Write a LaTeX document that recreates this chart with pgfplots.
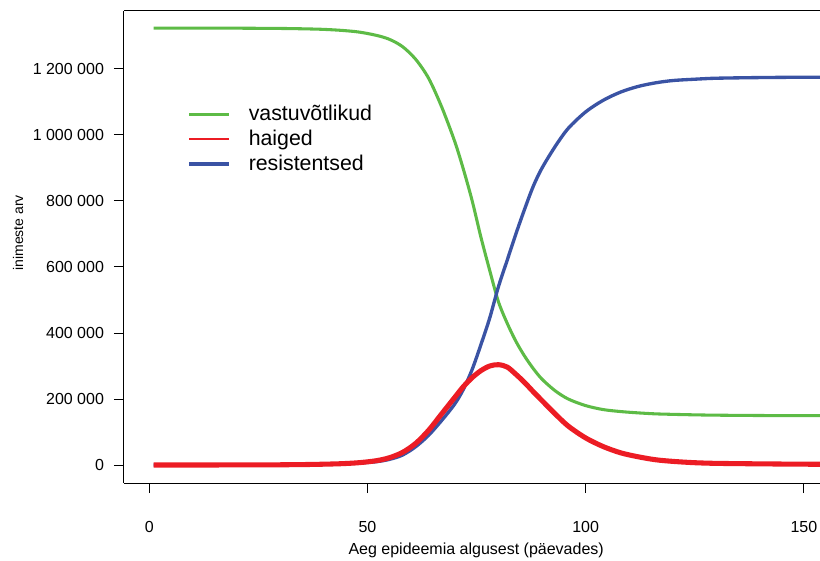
\documentclass[border=0pt]{standalone}
\usepackage{fontspec}
\setmainfont{Liberation Sans}
\usepackage{pgfplots}
\usepackage{pgfplotstable}
\pgfplotsset{compat=1.18}
\definecolor{sgreen}{HTML}{5DBB46}
\definecolor{ired}{HTML}{EC1C24}
\definecolor{rblue}{HTML}{3A53A4}

% SIR epidemic: susceptible, infected, recovered
\pgfplotstableread{
t S I R
1 1324000 0 0
10 1323900 50 50
20 1323600 250 150
30 1322800 700 500
36 1321500 1500 1000
40 1320000 2500 2000
44 1317000 4000 3500
48 1312000 7000 6000
52 1302000 13000 10000
55 1290000 22000 17000
58 1268000 38000 30000
61 1230000 65000 55000
64 1172000 105000 90000
67 1085000 155000 135000
70 980000 205000 185000
72 895000 238000 230000
74 800000 265000 290000
76 690000 286000 365000
78 590000 300000 445000
80 495000 304000 540000
82 430000 297000 620000
84 375000 275000 700000
86 330000 250000 775000
88 292000 222000 845000
90 260000 195000 900000
93 225000 155000 965000
96 200000 118000 1020000
100 180000 82000 1070000
104 168000 56000 1105000
108 162000 37000 1130000
112 158000 25000 1147000
116 155000 16000 1158000
120 153500 11000 1165000
125 152000 7000 1169000
130 151000 5000 1172000
140 150000 3500 1174000
150 149500 2500 1175000
160 149500 1800 1175000
}\epid

\begin{document}
\begin{tikzpicture}
\begin{axis}[
  scale only axis, width=522pt, height=354pt,
  xmin=-5.8, xmax=153.7, ymin=-54500, ymax=1375700,
  axis x line=box, axis y line=left,
  axis line style={-, line width=0.75pt},
  tick align=outside, xtick pos=left, ytick pos=left,
  major tick length=7.5pt, tick style={black, line width=0.75pt},
  xtick={0,50,100,150}, xticklabels={0,50,100,150},
  ytick={0,200000,400000,600000,800000,1000000,1200000},
  yticklabels={0,200 000,400 000,600 000,800 000,1 000 000,1 200 000},
  ticklabel style={font=\fontsize{12}{14}\selectfont},
  xticklabel style={yshift=-17.5pt},
  yticklabel style={xshift=-4pt},
  xlabel={Aeg epideemia algusest (päevades)},
  ylabel={inimeste arv},
  every axis x label/.style={at={(axis description cs:0.506,-0.142)}, anchor=center,
    font=\fontsize{12}{14}\selectfont},
  every axis y label/.style={at={(axis description cs:-0.152,0.53)}, anchor=center, rotate=90,
    font=\fontsize{10.5}{12}\selectfont},
  legend style={draw=none, fill=none, at={(axis description cs:0.085,0.812)}, anchor=north west,
    font=\fontsize{16}{19}\selectfont, cells={anchor=west}, row sep=1.5pt},
  legend image code/.code={\draw[#1] (0pt,0pt) -- (30pt,0pt); \path (41pt,0pt);},
]
\coordinate (SW) at (rel axis cs:0,0);
\coordinate (NE) at (rel axis cs:1,1);
\addplot[sgreen, line width=2.3pt, smooth, line join=round, forget plot] table[x=t, y=S] {\epid};
\addplot[rblue, line width=2.5pt, smooth, line join=round, forget plot] table[x=t, y=R] {\epid};
\addplot[ired, line width=3.8pt, smooth, line join=round, forget plot] table[x=t, y=I] {\epid};
\addlegendimage{sgreen, line width=2.2pt}
\addlegendentry{vastuvõtlikud}
\addlegendimage{ired, line width=2pt}
\addlegendentry{haiged}
\addlegendimage{rblue, line width=3pt}
\addlegendentry{resistentsed}
\end{axis}
\pgfresetboundingbox
\path[use as bounding box] ([xshift=-93pt, yshift=-57.75pt]SW) rectangle ([yshift=8.25pt]NE);
\end{tikzpicture}
\end{document}
